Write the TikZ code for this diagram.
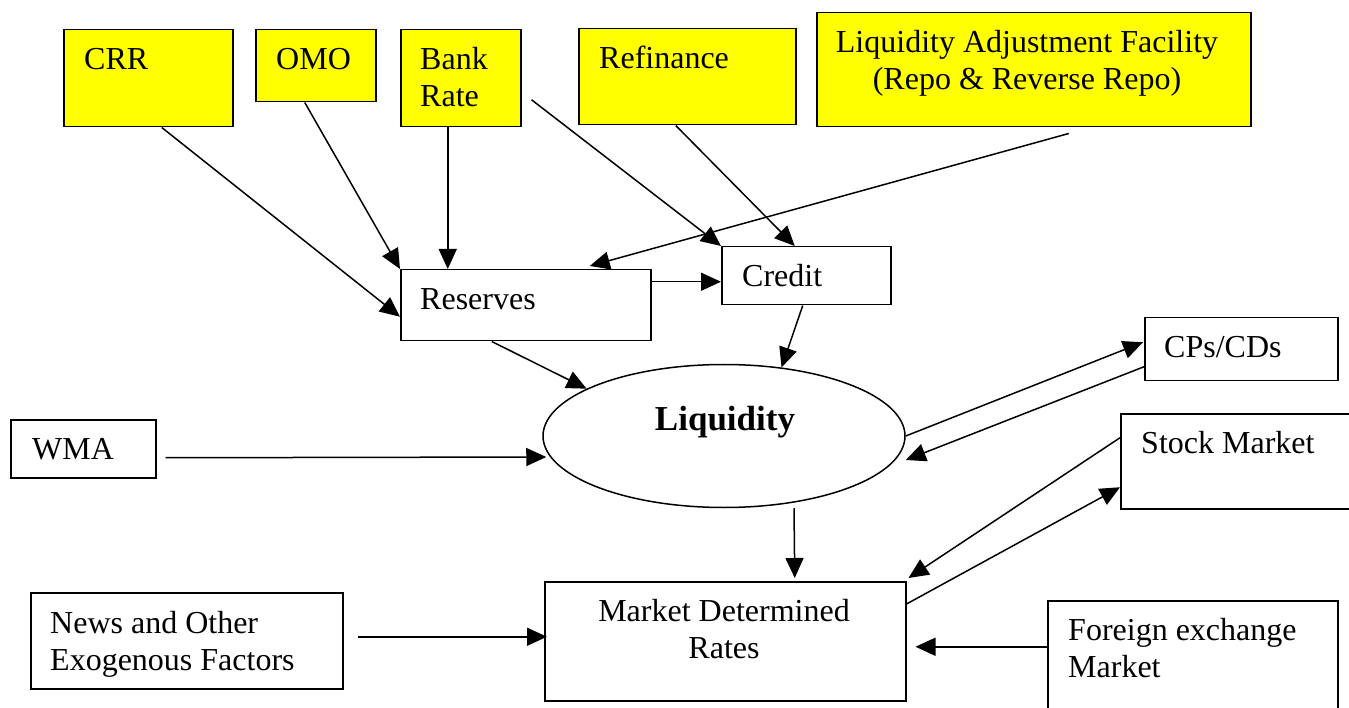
\documentclass[tikz,border=0pt]{standalone}
\usepackage{fontspec}
\setmainfont{Liberation Serif}
\usetikzlibrary{arrows.meta, shapes.geometric, calc}
\definecolor{instr}{HTML}{FFFF00}

\tikzset{
  box/.style={draw, line width=1.5pt, anchor=north west, inner sep=0pt},
  policy/.style={box, fill=instr},
  lbl/.style={inner sep=0pt, anchor=base west, align=left,
              font=\fontsize{32}{37}\selectfont},
  arr/.style={-{Triangle[length=20pt, width=18pt]}, line width=1.5pt},
}

\begin{document}
\begin{tikzpicture}[x=1pt, y=-1pt]
  \useasboundingbox (0,0) rectangle (1349,708);
  % Policy instruments
  \node[policy, minimum width=169pt, minimum height=97pt] (crr) at (63,29) {};
  \node[lbl] (crr-t) at (84,70) {CRR};
  \node[policy, minimum width=120pt, minimum height=72pt] (omo) at (255,29) {};
  \node[lbl] (omo-t) at (276,70) {OMO};
  \node[policy, minimum width=120pt, minimum height=97pt] (bank) at (400,29) {};
  \node[lbl] (bank-t) at (420,107) {Bank\\Rate};
  \node[policy, minimum width=217pt, minimum height=96pt] (refin) at (578,28) {};
  \node[lbl] (refin-t) at (599,69) {Refinance};
  \node[policy, minimum width=434pt, minimum height=114pt] (laf) at (816,12) {};
  \node[lbl, anchor=base, align=center] (laf-t) at (1027,90)
        {Liquidity Adjustment Facility\\(Repo \& Reverse Repo)};
  % Reserves and credit
  \node[box, minimum width=250pt, minimum height=71pt] (res) at (400,269) {};
  \node[lbl] (res-t) at (420,310) {Reserves};
  \node[box, minimum width=169pt, minimum height=58pt] (cred) at (721,246) {};
  \node[lbl] (cred-t) at (742,287) {Credit};
  % Liquidity
  \node[draw, ellipse, line width=1.5pt, minimum width=362pt,
        minimum height=143pt] (liq) at (724,436) {};
  \node[lbl, anchor=base, font=\fontsize{35}{40}\selectfont\bfseries]
        (liq-t) at (725,430) {Liquidity};
  \node[box, minimum width=145pt, minimum height=58pt] (wma) at (10,419) {};
  \node[lbl] (wma-t) at (32,459) {WMA};
  % Markets
  \node[box, minimum width=193pt, minimum height=63pt] (cps) at (1144,317) {};
  \node[lbl] (cps-t) at (1164,358) {CPs/CDs};
  \node[box, minimum width=240pt, minimum height=95pt] (stk) at (1120,413) {};
  \node[lbl] (stk-t) at (1141,453) {Stock Market};
  \node[box, minimum width=361pt, minimum height=119pt] (mdr) at (544,581) {};
  \node[lbl, anchor=base, align=center] (mdr-t) at (724,658)
        {Market Determined\\Rates};
  \node[box, minimum width=312pt, minimum height=96pt] (news) at (30,592) {};
  \node[lbl] (news-t) at (50,670) {News and Other\\Exogenous Factors};
  \node[box, minimum width=290pt, minimum height=130pt] (fx) at (1047,600) {};
  \node[lbl] (fx-t) at (1068,677) {Foreign exchange\\Market};
  % Arrows
  \draw[arr] ($(crr.south)+(13.5,0)$) -- ($(res.west)+(0,11.5)$);
  \draw[arr] ($(omo.south)+(-11,0)$) -- (res.north west);
  \draw[arr] ($(bank.south)+(-13,0)$) -- ($(res.north)+(-78,0)$);
  \draw[arr] ($(bank.east)+(10,21.5)$) -- (cred.north west);
  \draw[arr] ($(refin.south)+(-11.5,0)$) -- ($(cred.north)+(-11.5,0)$);
  \draw[arr] ($(laf.south)+(35,6)$) -- ($(res.north)+(64,-3)$);
  \draw[arr] ($(res.east)+(0,-23.5)$) -- ($(cred.west)+(0,6)$);
  \draw[arr] ($(res.south)+(-34,0)$) -- (liq.161);
  \draw[arr] ($(cred.south)+(-3.5,0)$) -- (liq.50);
  \draw[arr] ($(wma.east)+(9,9)$) -- ($(liq.west)+(4,21)$);
  \draw[arr] (liq.east) -- ($(cps.west)+(-1,-7)$);
  \draw[arr] ($(cps.west)+(0,17.5)$) -- ($(liq.east)+(0,24)$);
  \draw[arr] ($(liq.south)+(70,0)$) -- ($(mdr.north)+(69.5,-3)$);
  \draw[arr] ($(stk.west)+(0,-23.5)$) -- ($(mdr.north east)+(2,-3)$);
  \draw[arr] ($(mdr.north east)+(0,23)$) -- ($(stk.west)+(0,26)$);
  \draw[arr] ($(fx.west)+(0,-19)$) -- ($(mdr.east)+(9,5.5)$);
  \draw[arr] ($(news.east)+(14,-4)$) -- ($(mdr.west)+(3,-4.5)$);
\end{tikzpicture}
\end{document}
